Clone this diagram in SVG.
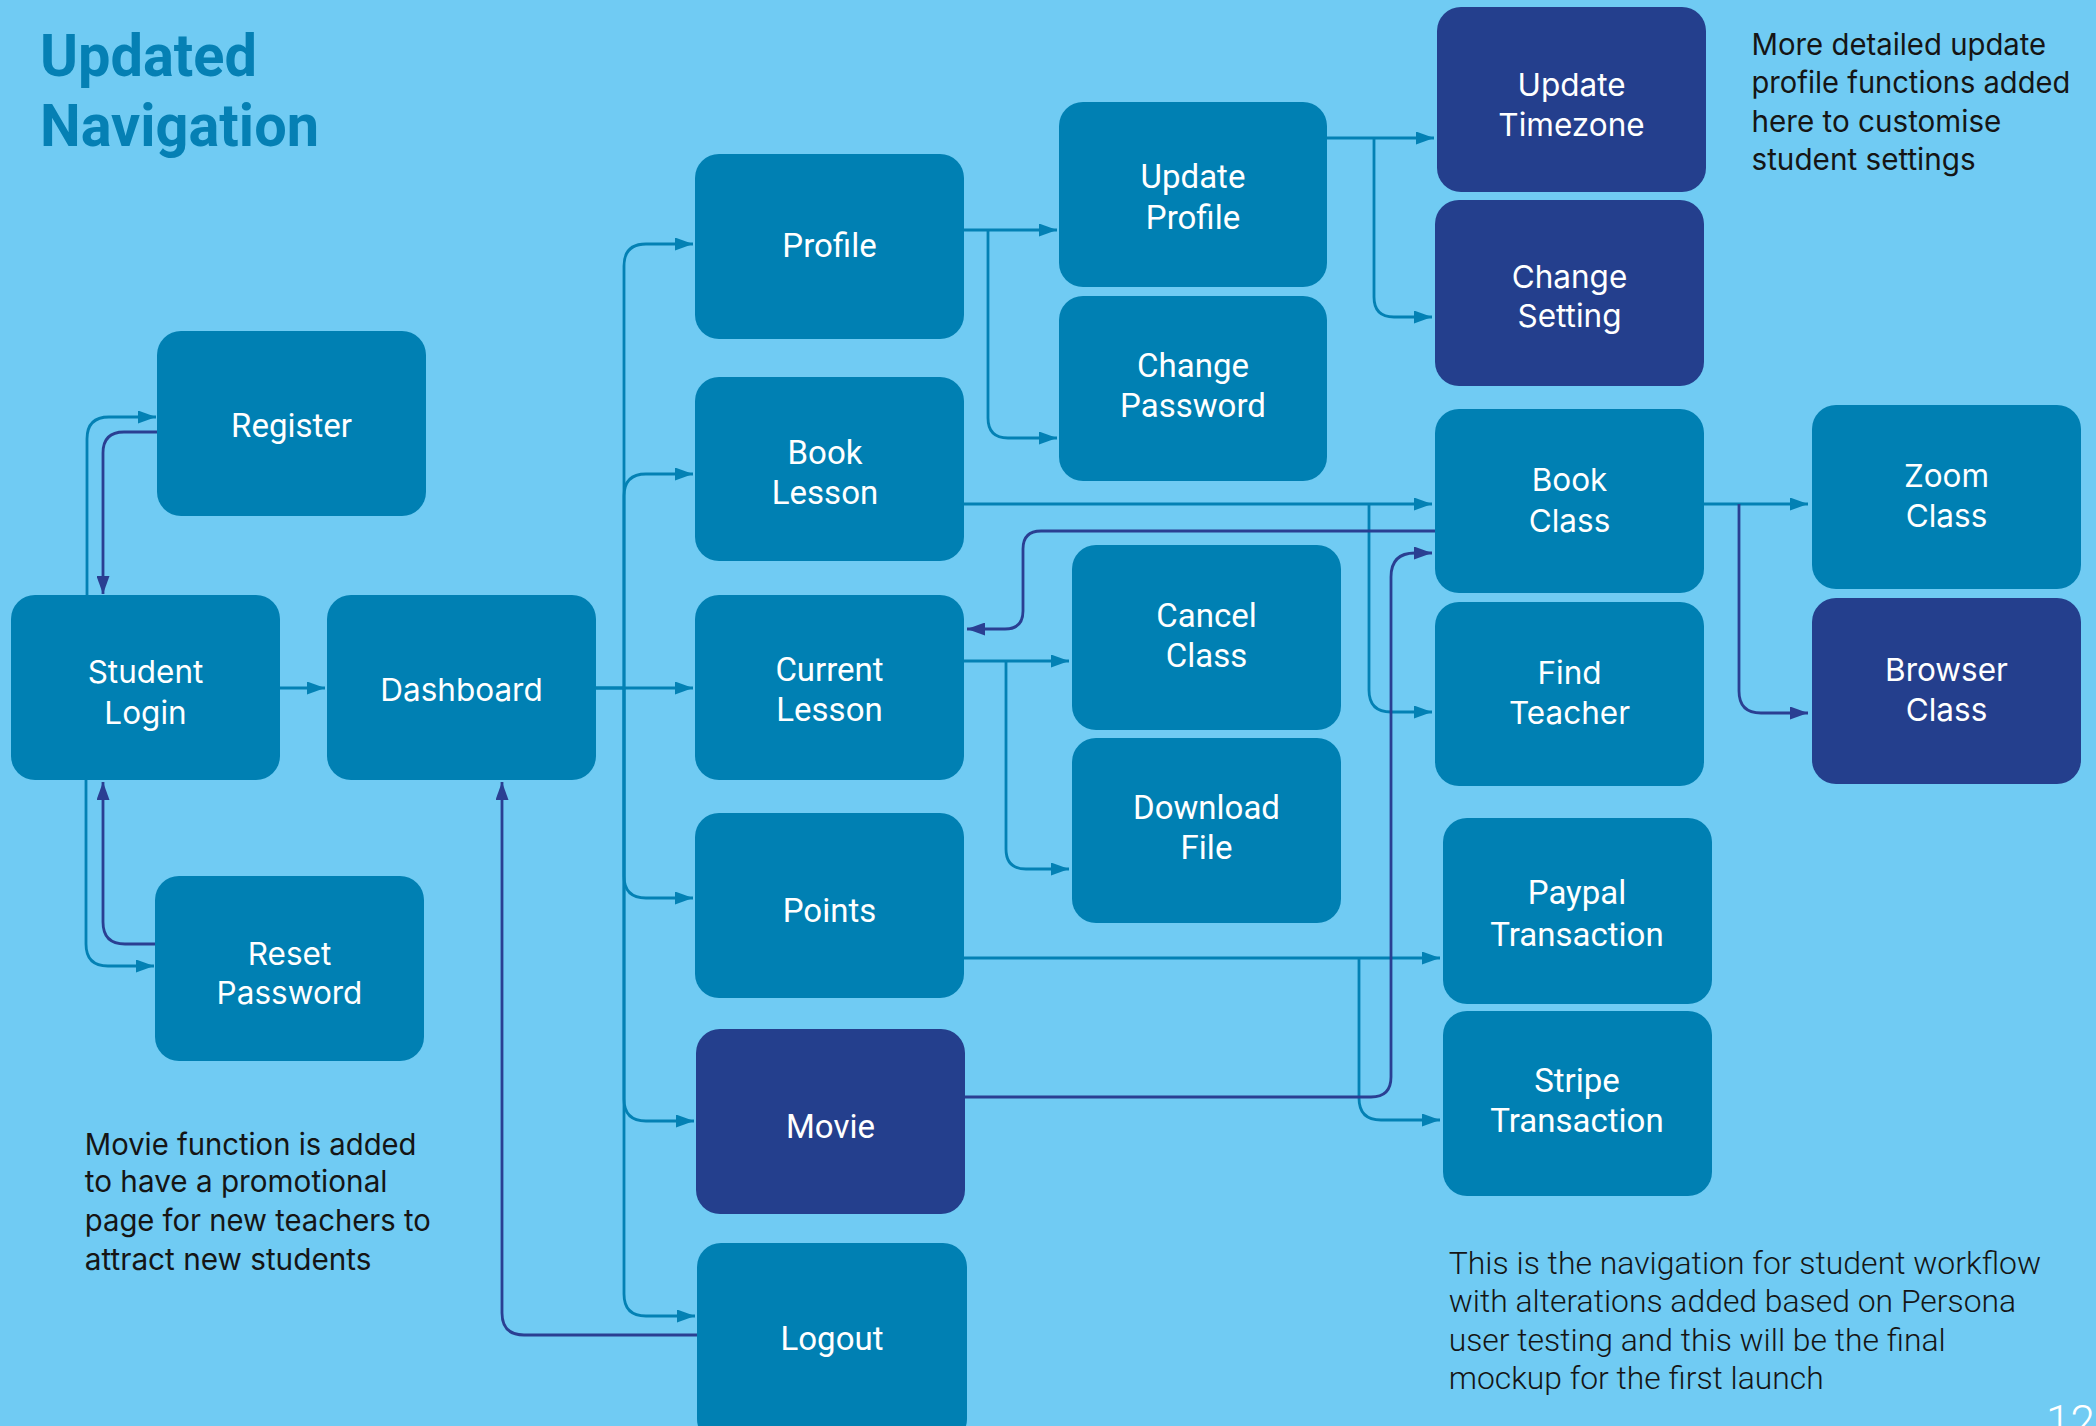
<svg xmlns="http://www.w3.org/2000/svg" width="2096" height="1426" viewBox="0 0 2096 1426">
<defs>
<style>
.n{fill:#0080B3}
.d{fill:#243F8D}
.lr{font-family:Roboto,"Liberation Sans",sans-serif;font-size:33px;fill:#fff;text-anchor:middle}
.li{font-family:Inter,"Liberation Sans",sans-serif;font-size:31.5px;fill:#fff;text-anchor:middle}
.ct{fill:none;stroke:#0381B4;stroke-width:2.8;marker-end:url(#aT)}
.cd{fill:none;stroke:#2A3F92;stroke-width:2.8;marker-end:url(#aD)}
.ctn{fill:none;stroke:#0381B4;stroke-width:2.8}
.note{font-family:Inter,"Liberation Sans",sans-serif;font-size:30px;fill:#151515}
.note2{font-family:Roboto,"Liberation Sans",sans-serif;font-weight:300;font-size:32px;fill:#151515}
</style>
<marker id="aT" markerUnits="userSpaceOnUse" markerWidth="18" markerHeight="13" refX="18" refY="6.5" orient="auto" viewBox="0 0 18 13"><path d="M0 0 L18 6.5 L0 13 Z" fill="#0381B4"/></marker>
<marker id="aD" markerUnits="userSpaceOnUse" markerWidth="18" markerHeight="13" refX="18" refY="6.5" orient="auto" viewBox="0 0 18 13"><path d="M0 0 L18 6.5 L0 13 Z" fill="#2A3F92"/></marker>
</defs>
<rect width="2096" height="1426" fill="#70CBF3"/>

<g id="title" font-family="Roboto,'Liberation Sans',sans-serif" font-weight="700" font-size="60" fill="#0580B4">
<text x="40" y="76" textLength="217" lengthAdjust="spacingAndGlyphs">Updated</text>
<text x="40" y="146" textLength="279" lengthAdjust="spacingAndGlyphs">Navigation</text>
</g>

<g id="connectors">
<path class="ct" d="M87 595 V439 Q87 417 109 417 H156"/>
<path class="cd" d="M157 432 H124 Q103 432 103 453 V594"/>
<path class="ct" d="M280 688 H325"/>
<path class="ct" d="M86 780 V944 Q86 966 108 966 H154"/>
<path class="cd" d="M155 944 H125 Q103 944 103 922 V782"/>
<path class="cd" d="M697 1335 H524 Q502 1335 502 1313 V782"/>
<path class="ct" d="M596 688 H693"/>
<path class="ct" d="M596 688 H624 V266 Q624 244 646 244 H693"/>
<path class="ct" d="M624 688 V496 Q624 474 646 474 H693"/>
<path class="ct" d="M624 688 V876 Q624 898 646 898 H693"/>
<path class="ct" d="M624 688 V1099 Q624 1121 646 1121 H694"/>
<path class="ct" d="M624 688 V1294 Q624 1316 646 1316 H695"/>
<path class="ct" d="M963 230 H1057"/>
<path class="ct" d="M988 230 V418 Q988 438 1008 438 H1057"/>
<path class="ct" d="M1327 138 H1434"/>
<path class="ct" d="M1374 138 V297 Q1374 317 1394 317 H1432"/>
<path class="ct" d="M963 504 H1432"/>
<path class="ct" d="M1369 504 V690 Q1369 712 1391 712 H1432"/>
<path class="cd" d="M1435 531 H1041 Q1023 531 1023 549 V611 Q1023 629 1005 629 H967"/>
<path class="ct" d="M964 661 H1069"/>
<path class="ct" d="M1006 661 V849 Q1006 869 1026 869 H1069"/>
<path class="ct" d="M964 958 H1440"/>
<path class="ct" d="M1359 958 V1098 Q1359 1120 1381 1120 H1440"/>
<path class="cd" d="M965 1097 H1371 Q1391 1097 1391 1077 V577 Q1391 553 1415 553 H1432"/>
<path class="ct" d="M1704 504 H1808"/>
<path class="cd" d="M1739 504 V691 Q1739 713 1761 713 H1808"/>
</g>

<g id="register"><rect class="n" x="157" y="331" width="269" height="185" rx="24"/><text class="lr" x="291.5" y="437">Register</text></g>
<g id="student-login"><rect class="n" x="11" y="595" width="269" height="185" rx="24"/><text class="li" x="145.5" y="683">Student</text><text class="li" x="145.5" y="723.5">Login</text></g>
<g id="dashboard"><rect class="n" x="327" y="595" width="269" height="185" rx="24"/><text class="li" x="461.5" y="701">Dashboard</text></g>
<g id="reset-password"><rect class="n" x="155" y="876" width="269" height="185" rx="24"/><text class="li" x="289.5" y="965">Reset</text><text class="li" x="289.5" y="1003.5">Password</text></g>

<g id="profile"><rect class="n" x="695" y="154" width="269" height="185" rx="24"/><text class="lr" x="829.5" y="257">Profile</text></g>
<g id="book-lesson"><rect class="n" x="695" y="377" width="269" height="184" rx="24"/><text class="lr" x="825" y="464">Book</text><text class="lr" x="825" y="504">Lesson</text></g>
<g id="current-lesson"><rect class="n" x="695" y="595" width="269" height="185" rx="24"/><text class="lr" x="829.5" y="681">Current</text><text class="lr" x="829.5" y="721">Lesson</text></g>
<g id="points"><rect class="n" x="695" y="813" width="269" height="185" rx="24"/><text class="lr" x="829.5" y="922">Points</text></g>
<g id="movie"><rect class="d" x="696" y="1029" width="269" height="185" rx="24"/><text class="lr" x="830.5" y="1137.5">Movie</text></g>
<g id="logout"><rect class="n" x="697" y="1243" width="270" height="200" rx="24"/><text class="lr" x="832" y="1350">Logout</text></g>

<g id="update-profile"><rect class="n" x="1059" y="102" width="268" height="185" rx="24"/><text class="lr" x="1193" y="188">Update</text><text class="lr" x="1193" y="229">Profile</text></g>
<g id="change-password"><rect class="n" x="1059" y="296" width="268" height="185" rx="24"/><text class="lr" x="1193" y="377">Change</text><text class="lr" x="1193" y="417">Password</text></g>
<g id="cancel-class"><rect class="n" x="1072" y="545" width="269" height="185" rx="24"/><text class="lr" x="1206.5" y="627">Cancel</text><text class="lr" x="1206.5" y="667">Class</text></g>
<g id="download-file"><rect class="n" x="1072" y="738" width="269" height="185" rx="24"/><text class="lr" x="1206.5" y="819">Download</text><text class="lr" x="1206.5" y="859">File</text></g>

<g id="update-timezone"><rect class="d" x="1437" y="7" width="269" height="185" rx="24"/><text class="li" x="1571.5" y="96">Update</text><text class="li" x="1571.5" y="136">Timezone</text></g>
<g id="change-setting"><rect class="d" x="1435" y="200" width="269" height="186" rx="24"/><text class="li" x="1569.5" y="288">Change</text><text class="li" x="1569.5" y="327">Setting</text></g>
<g id="book-class"><rect class="n" x="1435" y="409" width="269" height="184" rx="24"/><text class="li" x="1569.5" y="491">Book</text><text class="li" x="1569.5" y="531.5">Class</text></g>
<g id="find-teacher"><rect class="n" x="1435" y="602" width="269" height="184" rx="24"/><text class="li" x="1569.5" y="683.5">Find</text><text class="li" x="1569.5" y="723.5">Teacher</text></g>
<g id="paypal-transaction"><rect class="n" x="1443" y="818" width="269" height="186" rx="24"/><text class="lr" x="1577" y="903.5">Paypal</text><text class="lr" x="1577" y="945.5">Transaction</text></g>
<g id="stripe-transaction"><rect class="n" x="1443" y="1011" width="269" height="185" rx="24"/><text class="lr" x="1577" y="1092">Stripe</text><text class="lr" x="1577" y="1132">Transaction</text></g>
<g id="zoom-class"><rect class="n" x="1812" y="405" width="269" height="184" rx="24"/><text class="li" x="1946.5" y="487">Zoom</text><text class="li" x="1946.5" y="526.5">Class</text></g>
<g id="browser-class"><rect class="d" x="1812" y="598" width="269" height="186" rx="24"/><text class="li" x="1946.5" y="681">Browser</text><text class="li" x="1946.5" y="721">Class</text></g>

<g id="note-profile" class="note">
<text x="1751.5" y="55" textLength="294.7" lengthAdjust="spacingAndGlyphs">More detailed update</text>
<text x="1751.5" y="93.4" textLength="318.7" lengthAdjust="spacingAndGlyphs">profile functions added</text>
<text x="1751.5" y="131.6" textLength="249.9" lengthAdjust="spacingAndGlyphs">here to customise</text>
<text x="1751.5" y="170" textLength="224.2" lengthAdjust="spacingAndGlyphs">student settings</text>
</g>
<g id="note-movie" class="note">
<text x="84.8" y="1154.8" textLength="331.7" lengthAdjust="spacingAndGlyphs">Movie function is added</text>
<text x="84.8" y="1192.4" textLength="302.7" lengthAdjust="spacingAndGlyphs">to have a promotional</text>
<text x="84.8" y="1231.1" textLength="346" lengthAdjust="spacingAndGlyphs">page for new teachers to</text>
<text x="84.8" y="1269.8" textLength="286.6" lengthAdjust="spacingAndGlyphs">attract new students</text>
</g>
<g id="note-workflow" class="note2">
<text x="1448.7" y="1273.6" textLength="592.4" lengthAdjust="spacingAndGlyphs">This is the navigation for student workflow</text>
<text x="1448.7" y="1312.3" textLength="567.5" lengthAdjust="spacingAndGlyphs">with alterations added based on Persona</text>
<text x="1448.7" y="1350.7" textLength="497" lengthAdjust="spacingAndGlyphs">user testing and this will be the final</text>
<text x="1448.7" y="1389" textLength="375" lengthAdjust="spacingAndGlyphs">mockup for the first launch</text>
</g>
<text x="2046" y="1437" font-family="Roboto,'Liberation Sans',sans-serif" font-weight="300" font-size="44" fill="#ffffff">12</text>
</svg>
